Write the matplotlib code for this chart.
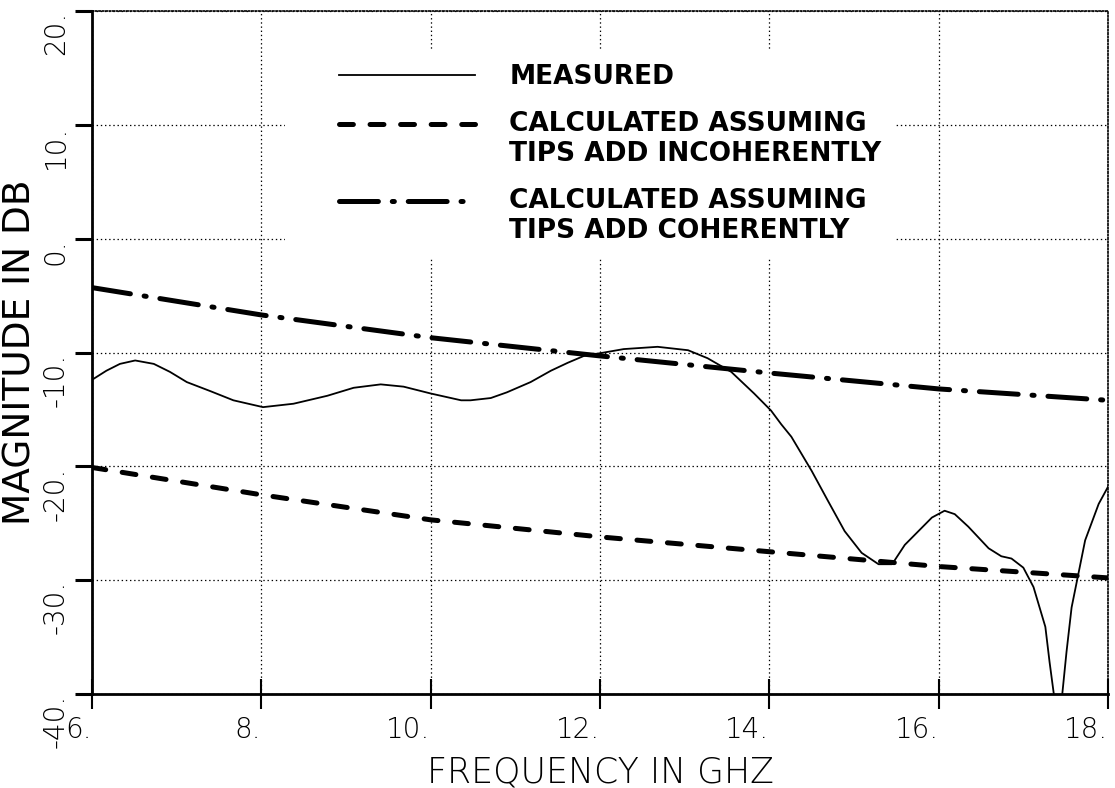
import numpy as np
import matplotlib
matplotlib.use("Agg")
import matplotlib.pyplot as plt
from matplotlib.legend_handler import HandlerLine2D

# ---------------- data ----------------
freq_measured = [6.0, 6.17, 6.33, 6.51, 6.73, 6.92, 7.12, 7.40, 7.67, 8.02, 8.38, 8.78,
                 9.09, 9.41, 9.68, 10.0, 10.36, 10.47, 10.71, 10.9, 11.18, 11.42,
                 11.62, 11.81, 12.05, 12.28, 12.68, 13.04, 13.27, 13.55, 13.82, 14.02,
                 14.14, 14.26, 14.5, 14.69, 14.89, 15.09, 15.29, 15.45, 15.6, 15.76,
                 15.92, 16.07, 16.19, 16.35, 16.59, 16.74, 16.86, 17.0, 17.12, 17.26,
                 17.31, 17.36, 17.41, 17.46, 17.51, 17.57, 17.73, 17.89, 18.0]
mag_measured = [-12.4, -11.6, -11.0, -10.7, -11.0, -11.7, -12.6, -13.4, -14.2, -14.8,
                -14.5, -13.8, -13.1, -12.8, -13.0, -13.6, -14.2, -14.2, -14.0, -13.5,
                -12.6, -11.6, -10.9, -10.3, -10.0, -9.7, -9.5, -9.8, -10.5, -11.7,
                -13.6, -15.1, -16.3, -17.4, -20.4, -23.0, -25.7, -27.6, -28.6, -28.6,
                -26.9, -25.7, -24.5, -23.9, -24.2, -25.3, -27.2, -27.9, -28.1, -28.9,
                -30.6, -34.1, -37.2, -40.0, -44.0, -40.0, -36.3, -32.4, -26.5, -23.3,
                -21.8]

freq_calc = [6.0, 8.0, 10.0, 12.0, 14.0, 16.0, 18.0]
mag_incoherent = [-20.1, -22.5, -24.7, -26.2, -27.5, -28.8, -29.8]
mag_coherent = [-4.3, -6.7, -8.7, -10.3, -11.8, -13.2, -14.2]

x_ticks = [6, 8, 10, 12, 14, 16, 18]
x_ticklabels = ["6.", "8.", "10.", "12.", "14.", "16.", "18."]
y_ticks = [20, 10, 0, -10, -20, -30, -40]
y_ticklabels = ["20.", "10.", "0.", "-10.", "-20.", "-30.", "-40."]

label_measured = "MEASURED"
label_incoherent = "CALCULATED ASSUMING\nTIPS ADD INCOHERENTLY"
label_coherent = "CALCULATED ASSUMING\nTIPS ADD COHERENTLY"
xlabel = "FREQUENCY IN GHZ"
ylabel = "MAGNITUDE IN DB"

# ---------------- figure ----------------
plt.rcParams["font.family"] = ["DejaVu Sans"]
plt.rcParams["lines.scale_dashes"] = False

W, H = 1115, 788
fig = plt.figure(figsize=(W / 100, H / 100), dpi=100)
ax = fig.add_axes([92 / W, 1 - 694 / H, 1016 / W, 683 / H])

ax.plot(freq_measured, mag_measured, color="black", lw=1.3, label=label_measured,
        solid_joinstyle="round", zorder=3)
ax.plot(freq_calc, mag_incoherent, color="black", lw=3.6, dashes=(10, 12),
        dash_capstyle="round", label=label_incoherent, zorder=3)
ax.plot(freq_calc, mag_coherent, color="black", lw=3.6, dashes=(28, 10, 1.5, 10),
        dash_capstyle="round", label=label_coherent, zorder=3)

ax.set_xlim(6, 18)
ax.set_ylim(-40, 20)

ax.set_xticks(x_ticks)
ax.set_xticklabels(x_ticklabels, fontsize=20, ha="right", fontweight="light")
ax.set_yticks(y_ticks)
ax.set_yticklabels(y_ticklabels, fontsize=20, rotation=90, va="top", fontweight="light")
ax.tick_params(axis="x", direction="inout", length=22, width=1.5, pad=5)
ax.tick_params(axis="y", direction="out", length=12, width=2.2, pad=4)

ax.grid(True, color="black", lw=0.9, linestyle=(0, (1, 2)), zorder=1)
ax.set_axisbelow(True)

for s in ("left", "bottom"):
    ax.spines[s].set_linewidth(2.0)
for s in ("top", "right"):
    ax.spines[s].set_linestyle((0, (1, 1.5)))
    ax.spines[s].set_linewidth(1.2)

ax.set_xlabel(xlabel, fontsize=25, fontweight="light", labelpad=8)
ax.set_ylabel(ylabel, fontsize=27)
ax.yaxis.set_label_coords(-0.053, 0.5)


class FirstLineHandler(HandlerLine2D):
    """Legend key aligned with the first line of its label, drawn only across
    the right part of the key box."""

    def __init__(self, nlines=1, frac=0.77, **kw):
        super().__init__(**kw)
        self.nlines = nlines
        self.frac = frac

    def create_artists(self, legend, orig_handle, xdescent, ydescent, width,
                       height, fontsize, trans):
        arts = super().create_artists(legend, orig_handle, xdescent, ydescent,
                                      width, height, fontsize, trans)
        shift = 0.5 * (self.nlines - 1) * fontsize * 1.2
        x0 = -xdescent + width * (1 - self.frac)
        x1 = -xdescent + width
        for a in arts:
            if hasattr(a, "set_ydata"):
                yd = np.asarray(a.get_ydata(), dtype=float)
                a.set_ydata(yd + shift)
                xd = np.asarray(a.get_xdata(), dtype=float)
                a.set_xdata(np.linspace(x0, x1, len(xd)))
        return arts


handles, labels = ax.get_legend_handles_labels()
hmap = {handles[0]: FirstLineHandler(1), handles[1]: FirstLineHandler(2),
        handles[2]: FirstLineHandler(2)}
leg = ax.legend(handles, labels, handler_map=hmap, loc="upper left",
                bbox_to_anchor=(0.19, 0.942), prop={"weight": "bold", "size": 19},
                handlelength=6.7, handletextpad=1.3, labelspacing=0.8,
                borderpad=0.5, frameon=True, facecolor="white", edgecolor="none",
                framealpha=1.0, fancybox=False, borderaxespad=0)
leg.set_zorder(2)

fig.savefig("out.png", dpi=100, facecolor="white")
